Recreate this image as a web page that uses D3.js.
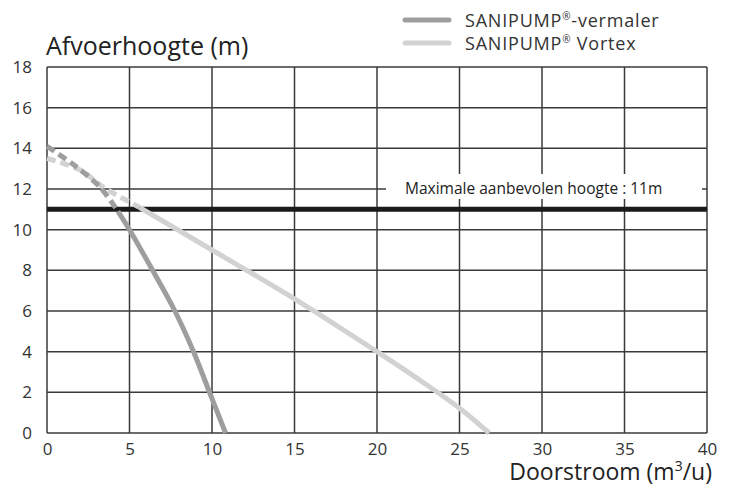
<!DOCTYPE html>
<html>
<head>
<meta charset="utf-8">
<script src="https://cdn.jsdelivr.net/npm/d3@7"></script>
<style>
  body { margin: 0; background: #fff; }
  svg { display: block; font-family: "Open Sans", sans-serif; }
</style>
</head>
<body>
<svg id="chart" width="736" height="488"></svg>
<script>
// tick values
var xTicks = [0, 5, 10, 15, 20, 25, 30, 35, 40];
var yTicks = [0, 2, 4, 6, 8, 10, 12, 14, 16, 18];

// SANIPUMP-vermaler (flow m3/u, head m)
var vermalerDashQ = [0, 1.6, 3.2, 4.3];
var vermalerDashH = [14.1, 13.2, 12.1, 10.9];
var vermalerQ = [4.3, 5, 6.4, 7.75, 8.88, 9.85, 10.82];
var vermalerH = [10.9, 10, 8, 6, 4, 2, 0];

// SANIPUMP Vortex
var vortexDashQ = [0, 2, 3.4, 5.6];
var vortexDashH = [13.5, 12.94, 12.1, 11.1];
var vortexQ = [5.6, 10, 15, 20, 22.5, 25, 26.8];
var vortexH = [11.1, 9.0, 6.6, 4.0, 2.65, 1.22, 0];

var maxHeight = 11;
var legendNames = ['SANIPUMP', 'SANIPUMP'];
var legendSuffix = ['-vermaler', ' Vortex'];
var legendColors = ['#9e9e9e', '#d2d2d2'];

var svg = d3.select('#chart');

var x = d3.scaleLinear().domain([0, 40]).range([47, 707]);
var y = d3.scaleLinear().domain([0, 18]).range([433, 67]);

var zip = function(qs, hs) {
  return qs.map(function(q, i){ return [q, hs[i]]; });
};

// grid
var grid = svg.append('g').attr('class', 'grid');

grid.selectAll('line.v')
    .data(xTicks)
    .enter().append('line')
    .attr('class', 'v')
    .attr('x1', function(d){ return x(d); })
    .attr('x2', function(d){ return x(d); })
    .attr('y1', y(0))
    .attr('y2', y(18))
    .attr('stroke', '#3a3a3a')
    .attr('stroke-width', 1.5)
    ;

grid.selectAll('line.h')
    .data(yTicks)
    .enter().append('line')
    .attr('class', 'h')
    .attr('x1', x(0))
    .attr('x2', x(40))
    .attr('y1', function(d){ return y(d); })
    .attr('y2', function(d){ return y(d); })
    .attr('stroke', '#3a3a3a')
    .attr('stroke-width', 1.5)
    ;

// axes (labels only, the grid does the lines)
var xAxis = svg.append('g')
    .attr('transform', 'translate(0,' + y(0) + ')')
    .call(d3.axisBottom(x).tickValues(xTicks).tickSize(0).tickPadding(10))
    ;
var yAxis = svg.append('g')
    .attr('transform', 'translate(' + (x(0) - 15) + ',0)')
    .call(d3.axisLeft(y).tickValues(yTicks).tickSize(0).tickPadding(0))
    ;
[xAxis, yAxis].forEach(function(ax){
  ax.select('.domain').remove();
  ax.selectAll('text')
      .attr('font-family', '"Open Sans", sans-serif')
      .attr('font-size', 17)
      .attr('fill', '#333');
});

// white box behind annotation
svg.append('rect')
    .attr('x', 386)
    .attr('y', 174)
    .attr('width', 316)
    .attr('height', 25)
    .attr('fill', '#fff')
    ;

svg.append('text')
    .attr('x', 405)
    .attr('y', 194)
    .attr('font-size', 15.5)
    .attr('fill', '#222')
    .text('Maximale aanbevolen hoogte : 11m')
    ;

// max height line
svg.append('line')
    .attr('x1', x(0))
    .attr('x2', x(40))
    .attr('y1', y(maxHeight))
    .attr('y2', y(maxHeight))
    .attr('stroke', '#1a1a1a')
    .attr('stroke-width', 5)
    ;

var line = d3.line()
    .x(function(d){ return x(d[0]); })
    .y(function(d){ return y(d[1]); })
    .curve(d3.curveCatmullRom.alpha(0.5))
    ;

var curves = [
  {pts: zip(vortexDashQ, vortexDashH), color: legendColors[1], dash: '9,5'},
  {pts: zip(vortexQ, vortexH), color: legendColors[1], dash: null},
  {pts: zip(vermalerDashQ, vermalerDashH), color: legendColors[0], dash: '9,5'},
  {pts: zip(vermalerQ, vermalerH), color: legendColors[0], dash: null}
];

svg.selectAll('path.curve')
    .data(curves)
    .enter().append('path')
    .attr('class', 'curve')
    .attr('d', function(d){ return line(d.pts); })
    .attr('fill', 'none')
    .attr('stroke', function(d){ return d.color; })
    .attr('stroke-width', 5)
    .attr('stroke-dasharray', function(d){ return d.dash; })
    ;

// titles
svg.append('text')
    .attr('x', 46)
    .attr('y', 55)
    .attr('font-size', 25)
    .attr('fill', '#222')
    .text('Afvoerhoogte (m)')
    ;

var xt = svg.append('text')
    .attr('x', 712)
    .attr('y', 480)
    .attr('text-anchor', 'end')
    .attr('font-size', 23)
    .attr('fill', '#222')
    ;
xt.append('tspan').text('Doorstroom (m');
xt.append('tspan').attr('font-size', 14).attr('dy', -9).text('3');
xt.append('tspan').attr('dy', 9).text('/u)');

// legend
var legend = svg.selectAll('g.legend')
    .data(legendNames)
    .enter().append('g')
    .attr('class', 'legend')
    .attr('transform', function(d, i){ return 'translate(405,' + (20 + i * 23) + ')'; })
    ;

legend.append('line')
    .attr('x1', 0)
    .attr('x2', 44)
    .attr('stroke', function(d, i){ return legendColors[i]; })
    .attr('stroke-width', 5)
    .attr('stroke-linecap', 'round')
    ;

var ltext = legend.append('text')
    .attr('x', 60)
    .attr('y', 7)
    .attr('font-size', 18)
    .attr('letter-spacing', 0.8)
    .attr('fill', '#333')
    ;
ltext.append('tspan').text(function(d){ return d; });
ltext.append('tspan')
    .attr('font-size', 10)
    .attr('dy', -7)
    .text('\u00AE');
ltext.append('tspan')
    .attr('dy', 7)
    .text(function(d, i){ return legendSuffix[i]; });
</script>
</body>
</html>
